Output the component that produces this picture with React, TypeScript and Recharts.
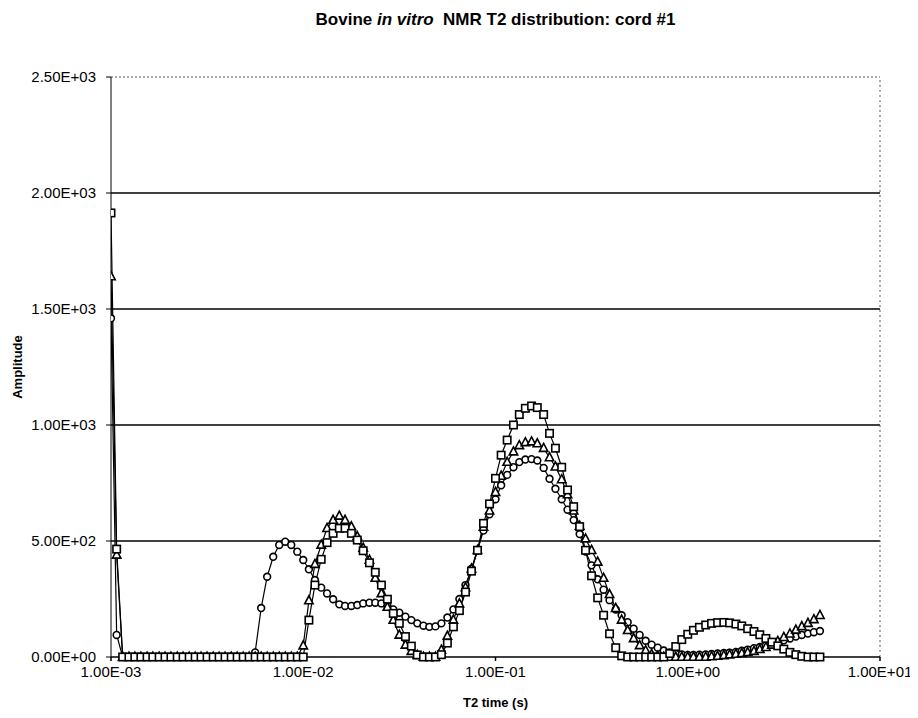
import { Line, LineChart, ReferenceLine, XAxis, YAxis } from 'recharts';

// T2 relaxation times (s), log grid
const T2_S = [
  1.0e-3, 1.07e-3, 1.15e-3, 1.24e-3, 1.33e-3, 1.43e-3, 1.54e-3, 1.65e-3, 1.78e-3, 1.91e-3,
  2.05e-3, 2.21e-3, 2.37e-3, 2.55e-3, 2.74e-3, 2.94e-3, 3.16e-3, 3.4e-3, 3.65e-3, 3.92e-3,
  4.22e-3, 4.53e-3, 4.87e-3, 5.23e-3, 5.62e-3, 6.04e-3, 6.49e-3, 6.98e-3, 7.5e-3, 8.06e-3,
  8.66e-3, 9.31e-3,
  1.0e-2, 1.07e-2, 1.15e-2, 1.24e-2, 1.33e-2, 1.43e-2, 1.54e-2, 1.65e-2, 1.78e-2, 1.91e-2,
  2.05e-2, 2.21e-2, 2.37e-2, 2.55e-2, 2.74e-2, 2.94e-2, 3.16e-2, 3.4e-2, 3.65e-2, 3.92e-2,
  4.22e-2, 4.53e-2, 4.87e-2, 5.23e-2, 5.62e-2, 6.04e-2, 6.49e-2, 6.98e-2, 7.5e-2, 8.06e-2,
  8.66e-2, 9.31e-2,
  1.0e-1, 1.07e-1, 1.15e-1, 1.24e-1, 1.33e-1, 1.43e-1, 1.54e-1, 1.65e-1, 1.78e-1, 1.91e-1,
  2.05e-1, 2.21e-1, 2.37e-1, 2.55e-1, 2.74e-1, 2.94e-1, 3.16e-1, 3.4e-1, 3.65e-1, 3.92e-1,
  4.22e-1, 4.53e-1, 4.87e-1, 5.23e-1, 5.62e-1, 6.04e-1, 6.49e-1, 6.98e-1, 7.5e-1, 8.06e-1,
  8.66e-1, 9.31e-1,
  1.0, 1.07, 1.15, 1.24, 1.33, 1.43, 1.54, 1.65, 1.78, 1.91,
  2.05, 2.21, 2.37, 2.55, 2.74, 2.94, 3.16, 3.4, 3.65, 3.92,
  4.22, 4.53, 4.87,
];

const AMP_CIRCLE = [
  1460, 95, 0, 0, 0, 0, 0, 0, 0, 0,
  0, 0, 0, 0, 0, 0, 0, 0, 0, 0,
  0, 0, 0, 0, 20, 211, 346, 432, 483, 497,
  483, 454, 418, 378, 332, 299, 274, 249, 227, 220,
  220, 224, 231, 234, 234, 231, 220, 205, 191, 174,
  159, 145, 135, 130, 132, 145, 170, 205, 250, 310,
  380, 460, 545, 615, 680, 740, 785, 818, 840, 851,
  853, 847, 815, 768, 725, 680, 635, 590, 530, 455,
  395, 335, 290, 245, 205, 180, 150, 122, 95, 70,
  53, 40, 28, 20, 14, 11, 9, 9, 10, 11,
  13, 15, 17, 19, 22, 27, 32, 38, 43, 50,
  58, 65, 72, 80, 88, 95, 101, 107, 112,
];

const AMP_TRIANGLE = [
  1640, 440, 0, 0, 0, 0, 0, 0, 0, 0,
  0, 0, 0, 0, 0, 0, 0, 0, 0, 0,
  0, 0, 0, 0, 0, 0, 0, 0, 0, 0,
  0, 0, 49, 243, 400, 483, 555, 590, 608, 590,
  562, 520, 470, 418, 340, 274, 215, 159, 95, 52,
  25, 8, 0, 0, 0, 30, 90, 160, 230, 300,
  380, 460, 560, 630, 710, 780, 840, 885, 912, 925,
  928, 920, 900, 860, 820, 765, 700, 630, 565, 510,
  460, 410, 340, 270, 210, 160, 115, 80, 50, 28,
  12, 4, 0, 0, 0, 0, 0, 0, 0, 0,
  2, 4, 7, 10, 13, 16, 20, 25, 33, 42,
  52, 68, 85, 100, 117, 132, 146, 162, 180,
];

const AMP_SQUARE = [
  1914, 465, 0, 0, 0, 0, 0, 0, 0, 0,
  0, 0, 0, 0, 0, 0, 0, 0, 0, 0,
  0, 0, 0, 0, 0, 0, 0, 0, 0, 0,
  0, 0, 0, 159, 310, 421, 493, 533, 555, 555,
  533, 504, 458, 406, 365, 310, 249, 188, 145, 88,
  47, 9, 0, 0, 0, 10, 60, 130, 200, 280,
  370, 460, 576, 660, 770, 870, 935, 1000, 1045, 1072,
  1082, 1075, 1045, 964, 900, 818, 720, 648, 562, 460,
  350, 255, 180, 100, 40, 5, 0, 0, 0, 0,
  0, 0, 0, 15, 45, 75, 98, 115, 128, 138,
  145, 148, 149, 147, 142, 134, 122, 110, 96, 80,
  64, 48, 34, 20, 10, 3, 0, 0, 0,
];

const X_TICKS = [0.001, 0.01, 0.1, 1, 10];
const Y_TICKS = [0, 500, 1000, 1500, 2000, 2500];
const GRID_LEVELS = [500, 1000, 1500, 2000];

const data = T2_S.map((t2, i) => ({
  t2,
  circle: AMP_CIRCLE[i],
  triangle: AMP_TRIANGLE[i],
  square: AMP_SQUARE[i],
}));

const FONT = '"Liberation Sans", Arial, sans-serif';

// excel style 2.50E+03
function sci(v: number) {
  const [m, e] = v.toExponential(2).split('e');
  const n = parseInt(e, 10);
  return `${m}E${n < 0 ? '-' : '+'}${String(Math.abs(n)).padStart(2, '0')}`;
}

const CircleDot = (p: any) => {
  if (p.cx == null || p.cy == null) return null;
  return <circle key={`c${p.index}`} cx={p.cx} cy={p.cy} r={3.4} fill="#fff" stroke="#000" strokeWidth={1.6} />;
};

const TriangleDot = (p: any) => {
  if (p.cx == null || p.cy == null) return null;
  const { cx, cy } = p;
  const pts = `${cx},${cy - 4.8} ${cx + 4.2},${cy + 3.2} ${cx - 4.2},${cy + 3.2}`;
  return <polygon key={`t${p.index}`} points={pts} fill="#fff" stroke="#000" strokeWidth={1.6} />;
};

const SquareDot = (p: any) => {
  if (p.cx == null || p.cy == null) return null;
  return (
    <rect key={`s${p.index}`} x={p.cx - 3.7} y={p.cy - 3.7} width={7.4} height={7.4} fill="#fff" stroke="#000" strokeWidth={1.6} />
  );
};

export default function App() {
  return (
    <div style={{ position: 'relative', width: 908, height: 702, background: '#fff', fontFamily: FONT }}>
      <div
        style={{
          position: 'absolute',
          top: 2,
          left: 103,
          width: 769,
          textAlign: 'center',
          fontWeight: 'bold',
          fontSize: 17,
          whiteSpace: 'pre',
          color: '#000',
        }}
      >
        Bovine <i>in vitro</i>  NMR T2 distribution: cord #1
      </div>
      <LineChart width={908} height={702} data={data} margin={{ top: 69, right: 36, bottom: 0, left: 0 }}>
        {GRID_LEVELS.map((lv) => (
          <ReferenceLine key={lv} y={lv} stroke="#000" strokeWidth={1.5} />
        ))}
        <ReferenceLine y={2500} stroke="#555" strokeDasharray="2 2" />
        <ReferenceLine x={10} stroke="#555" strokeDasharray="2 3" />
        <XAxis
          dataKey="t2"
          type="number"
          scale="log"
          domain={[0.001, 10]}
          ticks={X_TICKS}
          allowDataOverflow
          tickFormatter={sci}
          height={53}
          tickSize={4}
          tickMargin={5}
          stroke="#000"
          strokeWidth={1.5}
          tick={{ fill: '#000', fontSize: 15, fontFamily: FONT }}
          label={{
            value: 'T2 time (s)',
            position: 'insideBottom',
            offset: 3,
            style: { fill: '#000', fontSize: 13, fontWeight: 'bold', fontFamily: FONT },
          }}
        />
        <YAxis
          type="number"
          domain={[0, 2500]}
          ticks={Y_TICKS}
          tickFormatter={sci}
          width={103}
          tickSize={5}
          tickMargin={10}
          stroke="#000"
          tick={{ fill: '#000', fontSize: 15, fontFamily: FONT }}
          label={{
            value: 'Amplitude',
            angle: -90,
            position: 'insideLeft',
            offset: 9,
            style: { fill: '#000', fontSize: 13, fontWeight: 'bold', fontFamily: FONT, textAnchor: 'middle' },
          }}
        />
        <Line dataKey="circle" type="linear" stroke="#000" strokeWidth={1.2} dot={CircleDot} isAnimationActive={false} />
        <Line dataKey="triangle" type="linear" stroke="#000" strokeWidth={1.2} dot={TriangleDot} isAnimationActive={false} />
        <Line dataKey="square" type="linear" stroke="#000" strokeWidth={1.2} dot={SquareDot} isAnimationActive={false} />
      </LineChart>
    </div>
  );
}
